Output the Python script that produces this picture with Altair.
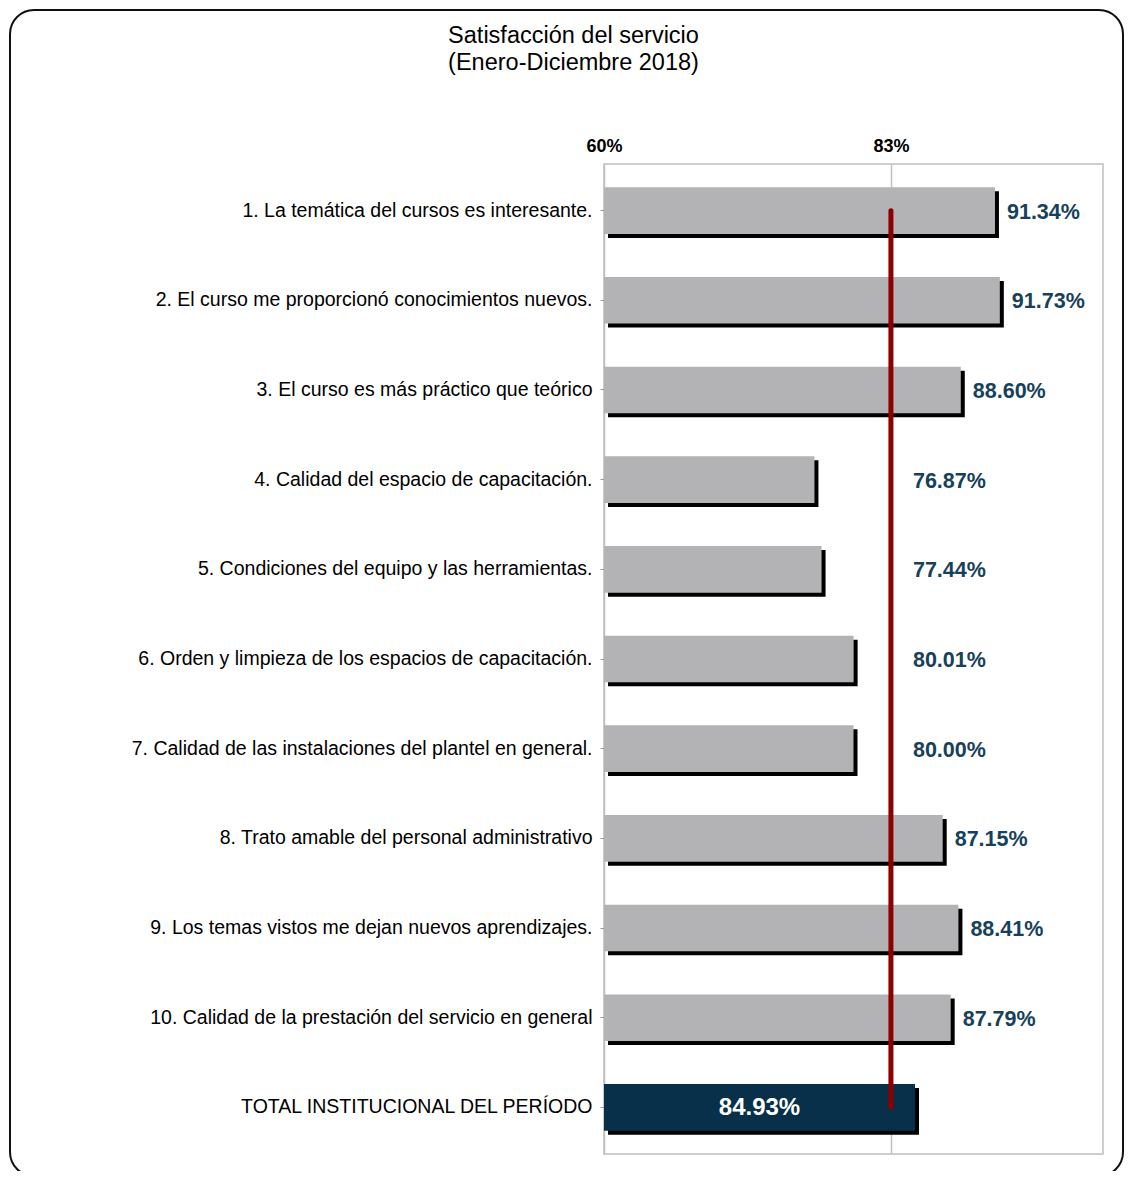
import altair as alt
import pandas as pd

categorias = [
    "1. La temática del cursos es interesante.",
    "2. El curso me proporcionó conocimientos nuevos.",
    "3. El curso es más práctico que teórico",
    "4. Calidad del espacio de capacitación.",
    "5. Condiciones del equipo y las herramientas.",
    "6. Orden y limpieza de los espacios de capacitación.",
    "7. Calidad de las instalaciones del plantel en general.",
    "8. Trato amable del personal administrativo",
    "9. Los temas vistos me dejan nuevos aprendizajes.",
    "10. Calidad de la prestación del servicio en general",
    "TOTAL INSTITUCIONAL DEL PERÍODO",
]
valores = [91.34, 91.73, 88.60, 76.87, 77.44, 80.01, 80.00, 87.15, 88.41, 87.79, 84.93]
meta = 83
eje_min, eje_max = 60, 100
ticks_x = [60, 83]
titulo = ["Satisfacción del servicio", "(Enero-Diciembre 2018)"]
total_cat = categorias[-1]

df = pd.DataFrame({"cat": categorias, "valor": valores})
df["etiqueta"] = df["valor"].map(lambda v: f"{v:.2f}%")
df["es_total"] = df["cat"] == total_cat

FONT = "Liberation Sans"
GRIS = "#B3B3B5"
AZUL = "#08304A"
TXT = "#17415A"
ROJO = "#8E0000"

xs = alt.Scale(domain=[eje_min, eje_max], nice=False, zero=False)
xa = alt.Axis(orient="top", values=ticks_x, labelExpr="datum.value + '%'", title=None,
              labelFont=FONT, labelFontSize=18, labelFontWeight="bold", labelColor="black",
              ticks=False, domain=False, grid=True, gridColor="#BFBFBF", gridWidth=1.5,
              labelPadding=9, labelFlush=False)
ys = alt.Scale(domain=categorias, paddingInner=0.48, paddingOuter=0.26)
ya = alt.Axis(title=None, labelFont=FONT, labelFontSize=19.5, labelColor="black",
              ticks=True, tickSize=4, tickColor="#9a9a9a", domain=False,
              labelPadding=8, labelLimit=700)

X = alt.X("valor:Q", scale=xs, axis=xa)
Y = alt.Y("cat:N", scale=ys, axis=ya)

base = alt.Chart(df)

borde = alt.Chart(pd.DataFrame({"k": [0]})).mark_rect(
    fillOpacity=0, stroke="#111111", strokeWidth=2, cornerRadius=24
).encode(x=alt.value(-594), x2=alt.value(519), y=alt.value(-154), y2=alt.value(1012))

sombra = base.mark_bar(color="black", xOffset=4, x2Offset=4, yOffset=4, y2Offset=4).encode(
    x=X, x2=alt.datum(eje_min), y=Y
)

barras = base.mark_bar().encode(
    x=X, x2=alt.datum(eje_min), y=Y,
    color=alt.condition(alt.datum.es_total, alt.value(AZUL), alt.value(GRIS)),
)

linea = alt.Chart(pd.DataFrame({"desde": [categorias[0]], "hasta": [total_cat], "meta": [meta]})).mark_rule(
    color=ROJO, strokeWidth=5, strokeCap="round"
).encode(
    x=alt.X("meta:Q", scale=xs, axis=xa),
    y=alt.Y("desde:N", scale=ys, axis=ya),
    y2="hasta:N",
)

etq_altas = base.transform_filter(
    (alt.datum.valor >= meta) & (alt.datum.cat != total_cat)
).mark_text(align="left", baseline="middle", dx=12, dy=2, font=FONT, fontSize=21.5,
            fontWeight="bold", color=TXT).encode(x=X, y=Y, text="etiqueta:N")

etq_bajas = base.transform_filter(alt.datum.valor < meta).mark_text(
    align="left", baseline="middle", dx=22, dy=2, font=FONT, fontSize=21.5,
    fontWeight="bold", color=TXT
).encode(x=alt.XDatum(meta, type="quantitative", scale=xs, axis=xa), y=Y, text="etiqueta:N")

etq_total = base.transform_filter(alt.datum.cat == total_cat).transform_calculate(
    mid=(alt.datum.valor + eje_min) / 2
).mark_text(align="center", baseline="middle", dy=1, font=FONT, fontSize=24,
            fontWeight="bold", color="white").encode(
    x=alt.X("mid:Q", scale=xs, axis=xa), y=Y, text="etiqueta:N"
)

chart = alt.layer(borde, sombra, barras, linea, etq_altas, etq_bajas, etq_total).properties(
    width=499, height=990,
    autosize=alt.AutoSizeParams(type="none"),
    padding={"left": 596, "top": 156, "right": 21, "bottom": 17},
    title=alt.Title(titulo, font=FONT, fontSize=23.5, fontWeight="normal", color="black",
                    anchor="middle", frame="group", dx=-280, offset=-65, lineHeight=27),
).configure_view(stroke="#BFBFBF", strokeWidth=1.5)

chart.save("out.html", embed_options={"renderer": "svg", "actions": False})
